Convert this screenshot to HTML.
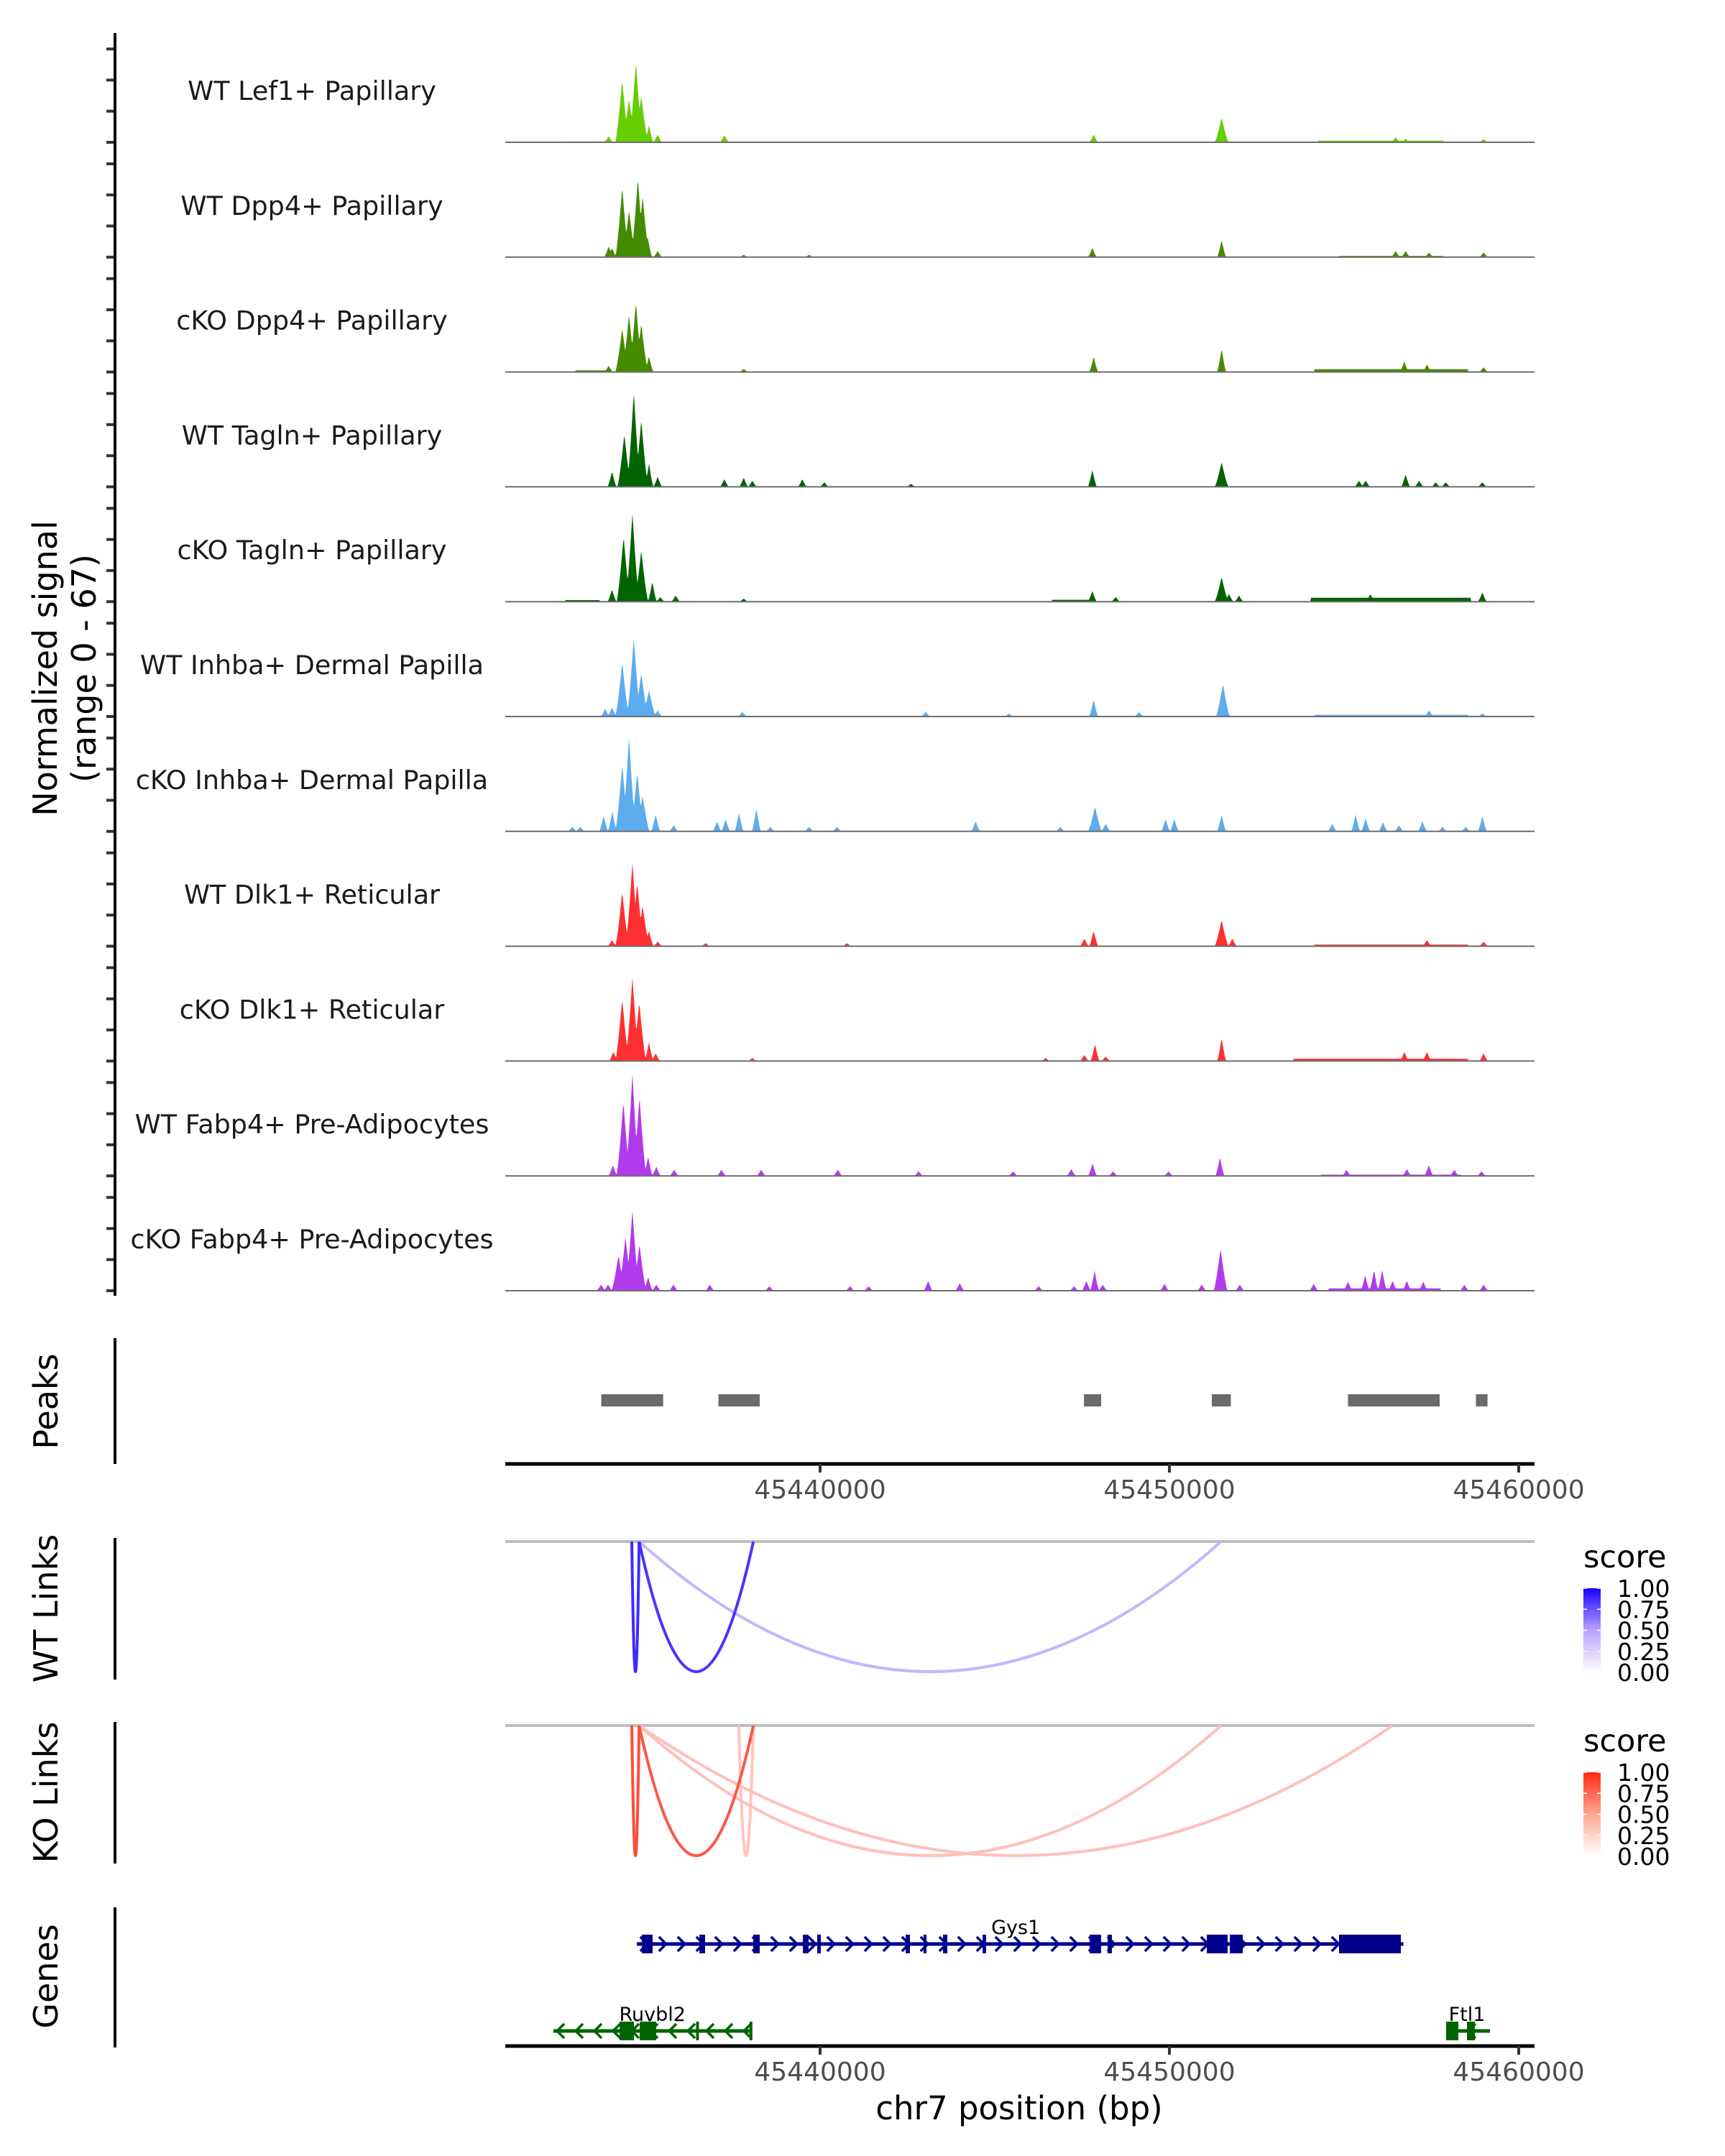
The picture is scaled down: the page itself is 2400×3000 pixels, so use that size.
<!DOCTYPE html>
<html><head><meta charset="utf-8"><style>
html,body{margin:0;padding:0;background:#fff;}
svg{display:block;font-family:"DejaVu Sans","Liberation Sans",sans-serif;}
</style></head><body>
<svg id="chart" xmlns="http://www.w3.org/2000/svg" width="2400" height="3000" viewBox="0 0 2400 3000">
<defs>
<linearGradient id="gradWT" x1="0" y1="1" x2="0" y2="0"><stop offset="0" stop-color="#ffffff"/><stop offset="0.5" stop-color="#b9a2fd"/><stop offset="1" stop-color="#1a00ff"/></linearGradient>
<linearGradient id="gradKO" x1="0" y1="1" x2="0" y2="0"><stop offset="0" stop-color="#ffffff"/><stop offset="0.5" stop-color="#fca78f"/><stop offset="1" stop-color="#ff2a14"/></linearGradient>
</defs>
<g id="tracks"></g>
<g id="peaks"></g>
<g id="links"></g>
<g id="genes"></g>
<g id="axes"></g>
</svg>
<script>
// ---------- data ----------
const xDomain = [45430.988, 45460.453];            // kb
const xTicks = [45440000, 45450000, 45460000];
const xTickLabels = ["45440000", "45450000", "45460000"];
const yMax = 67;
const yTicks = [0, 20, 40, 60];
const trackNames = ["WT Lef1+ Papillary","WT Dpp4+ Papillary","cKO Dpp4+ Papillary","WT Tagln+ Papillary","cKO Tagln+ Papillary","WT Inhba+ Dermal Papilla","cKO Inhba+ Dermal Papilla","WT Dlk1+ Reticular","cKO Dlk1+ Reticular","WT Fabp4+ Pre-Adipocytes","cKO Fabp4+ Pre-Adipocytes"];
const trackColors = ["#66CD00","#458B00","#458B00","#006400","#006400","#5CACEE","#5CACEE","#FF3030","#FF3030","#B23AEE","#B23AEE"];
// [position kb, signal, optional half-width kb (flat plateau)]
const sigWtLef1 = [[45433.947,4],[45434.336,40],[45434.531,28],[45434.727,52],[45434.881,30],[45435.102,11],[45435.351,5],[45437.259,4.6],[45447.832,5],[45451.495,16],[45456.477,3.2],[45456.763,2.4],[45458.995,2],[45456.05,1,1.8],[45433.3,0.6,0.6]];
const sigWtDpp4 = [[45433.947,7],[45434.044,6],[45434.336,45],[45434.531,30],[45434.784,51],[45434.920,39],[45435.064,13],[45435.351,4],[45447.794,6],[45451.495,11],[45456.477,4],[45456.763,4],[45457.434,3],[45458.995,3],[45437.813,1.5],[45439.684,1.5],[45456.34,0.8,1.5]];
const sigKoDpp4 = [[45433.947,4],[45434.336,28],[45434.531,37],[45434.727,45],[45434.881,31],[45435.102,10],[45447.832,10],[45451.495,15],[45456.725,7],[45457.373,5],[45458.995,3],[45456.34,1.8,2.2],[45437.813,2],[45433.5,1,0.5]];
const sigWtTagln = [[45434.044,10],[45434.396,34],[45434.667,61],[45434.881,43],[45435.102,15],[45435.351,6.5],[45437.259,5],[45437.813,6],[45438.061,4],[45439.492,5],[45440.123,3],[45442.603,2],[45447.794,11],[45451.495,16],[45455.427,4],[45455.619,4],[45456.763,8],[45457.146,4],[45457.625,3],[45457.911,3],[45458.958,3]];
const sigKoTagln = [[45434.044,8],[45434.375,42],[45434.628,57],[45434.881,33],[45435.197,13],[45435.427,3],[45435.866,4],[45447.794,7],[45448.462,3],[45451.495,16],[45451.706,5],[45451.993,4],[45455.751,5],[45458.958,6],[45456.34,2.5,2.3],[45437.813,2],[45447.232,1.2,0.6],[45433.2,1,0.5]];
const sigWtInhba = [[45433.848,5],[45434.044,6],[45434.336,35],[45434.667,51],[45434.881,28],[45435.102,17],[45435.351,4],[45437.775,3],[45443.023,3],[45445.409,2],[45447.832,11],[45449.129,3],[45451.533,21],[45457.434,4],[45458.958,2],[45456.34,1,2.2]];
const sigKoInhba = [[45432.908,3],[45433.139,3],[45433.805,10],[45434.053,13],[45434.336,43],[45434.531,61],[45434.766,38],[45434.920,23],[45435.294,11],[45435.808,4],[45437.049,6.5],[45437.297,8],[45437.679,12],[45438.176,15],[45438.577,3],[45439.684,3],[45440.484,3],[45444.454,6.5],[45446.878,3],[45447.870,16],[45448.176,5],[45449.892,8],[45450.140,8],[45451.495,11],[45454.663,5],[45455.332,11],[45455.619,8.6],[45456.116,6],[45456.573,4],[45457.244,6.5],[45457.816,3],[45458.484,3],[45458.958,10]];
const sigWtDlk1 = [[45434.044,4],[45434.336,35],[45434.628,54],[45434.766,41],[45434.920,26],[45435.102,10],[45435.351,3],[45436.725,2],[45440.770,2],[45447.565,5],[45447.832,10],[45451.495,17],[45451.801,5],[45457.373,4],[45458.995,3],[45456.34,1,2.2]];
const sigKoDlk1 = [[45434.083,6],[45434.336,40],[45434.628,54],[45434.823,38],[45435.102,12],[45435.294,5],[45438.061,2],[45446.457,2],[45447.565,4],[45447.870,11],[45448.176,3],[45451.495,15],[45456.725,6],[45457.373,6],[45458.995,5],[45456.05,1.5,2.5]];
const sigWtFabp4 = [[45434.068,7],[45434.369,48],[45434.628,66],[45434.830,51],[45435.077,12.5],[45435.312,6],[45435.822,4],[45437.175,4],[45438.312,4],[45440.508,4],[45442.821,3],[45445.526,3],[45447.192,4.5],[45447.799,8],[45448.388,3],[45449.977,3],[45451.447,12],[45455.072,4],[45456.798,4.5],[45457.426,7],[45458.155,4],[45458.935,3],[45456.34,0.8,2]];
const sigKoFabp4 = [[45433.729,4],[45433.928,4],[45434.229,23],[45434.429,35],[45434.628,52],[45434.830,30],[45435.077,9],[45435.312,4],[45435.803,4],[45436.843,4],[45438.548,3],[45440.860,3],[45441.391,3],[45443.095,6.5],[45443.998,5],[45446.258,3],[45447.272,3],[45447.624,6.5],[45447.859,13],[45448.094,4],[45449.860,4.5],[45450.925,4],[45451.466,27],[45452.014,4],[45454.132,4.5],[45455.112,6],[45455.604,10],[45455.857,13.5],[45456.093,13.5],[45456.388,6.5],[45456.798,6.5],[45457.268,6],[45458.444,4],[45458.995,4],[45456.16,1.5,1.6]];
const trackSignals = [sigWtLef1,sigWtDpp4,sigKoDpp4,sigWtTagln,sigKoTagln,sigWtInhba,sigKoInhba,sigWtDlk1,sigKoDlk1,sigWtFabp4,sigKoFabp4];
const peakStarts = [45433.735,45437.089,45447.553,45451.215,45455.113,45458.776];
const peakEnds   = [45435.507,45438.272,45448.047,45451.760,45457.737,45459.107];
const wtLinkStarts = [45434.61,45434.82,45434.82];
const wtLinkEnds   = [45434.82,45438.09,45451.48];
const wtLinkScores = [0.8,0.75,0.2];
const koLinkStarts = [45434.61,45434.82,45434.82,45434.82,45437.67];
const koLinkEnds   = [45434.82,45438.09,45451.48,45456.39,45438.09];
const koLinkScores = [0.8,0.75,0.22,0.22,0.2];
const legendTicks = [1.00,0.75,0.50,0.25,0.00];
const geneNames = ["Gys1","Ruvbl2","Ftl1"];
const geneStrands = ["+","-","-"];
const geneStarts = [45434.75,45432.367,45457.922];
const geneEnds = [45456.70,45438.025,45459.177];
const gys1Exons = [[45434.898,45435.206],[45436.544,45436.708],[45438.087,45438.272],[45439.507,45439.671],[45439.918,45440.021],[45442.449,45442.572],[45442.963,45443.046],[45443.519,45443.642],[45444.651,45444.753],[45447.717,45448.046],[45448.231,45448.354],[45451.071,45451.667],[45451.729,45452.100],[45454.856,45456.626]];
const ruvbl2Exons = [[45434.260,45434.671],[45434.836,45435.309],[45436.45,45436.51],[45437.98,45438.025]];
const ftl1Exons = [[45457.922,45458.272],[45458.519,45458.745]];
const geneExons = [gys1Exons, ruvbl2Exons, ftl1Exons];

// ---------- layout ----------
const NS = "http://www.w3.org/2000/svg";
const X0 = 703, X1 = 2135;
const AX = 160;
const trackH = 145, track0Base = 198, trackStep = 159.8;
function xs(kb){ return X0 + (kb - xDomain[0]) / (xDomain[1] - xDomain[0]) * (X1 - X0); }
function xinv(px){ return xDomain[0] + (px - X0) / (X1 - X0) * (xDomain[1] - xDomain[0]); }
function ys(v, base){ return base - Math.min(v, yMax) / yMax * trackH; }
function mk(tag, attrs, parent){ const e = document.createElementNS(NS, tag); for (const k in attrs) e.setAttribute(k, attrs[k]); parent.appendChild(e); return e; }
function lerpColor(c, s){ s = Math.pow(s, 0.8); const r=parseInt(c.slice(1,3),16), g=parseInt(c.slice(3,5),16), b=parseInt(c.slice(5,7),16);
  return "rgb(" + Math.round(255+(r-255)*s) + "," + Math.round(255+(g-255)*s) + "," + Math.round(255+(b-255)*s) + ")"; }
function leftAxis(y1, y2){
  const l = mk("line", {x1:AX, x2:AX, y1:y1, y2:y2, stroke:"#000", "stroke-width":4}, document.getElementById("axes"));
  
  
}
function yTitle(lines, cx, cy, name){
  const t = mk("text", {transform:"translate("+cx+","+cy+") rotate(-90)", "text-anchor":"middle", "font-size":46, fill:"#000"}, document.getElementById("axes"));
  
  
  lines.forEach((s, i) => { const ts = mk("tspan", {x:0, dy: i===0 ? (-(lines.length-1)*27 + 16) : 54}, t); ts.textContent = s; });
}

// ---------- signal tracks ----------
const tg = document.getElementById("tracks");
trackSignals.forEach((sig, i) => {
  const base = track0Base + trackStep * i;
  const g = mk("g", {}, tg);
  
  
  let d = "M" + X0 + "," + base;
  const xEnd = xs(45459.1);
  for (let px = X0; px <= X1; px += 1) {
    const kb = xinv(px);
    let v = 0;
    if (px <= xEnd) {
      for (const p of sig) {
        const hw = p[2] !== undefined ? p[2] : (p[1] > 15 ? 0.2 : 0.13);
        const f = 1 - Math.abs(kb - p[0]) / hw;
        if (f > 0) { const val = p[2] !== undefined ? p[1] : p[1] * Math.pow(f, 1.3); if (val > v) v = val; }
      }
    }
    d += "L" + px + "," + ys(v, base).toFixed(1);
  }
  d += "L" + X1 + "," + base + "Z";
  const area = mk("path", {d:d, fill:trackColors[i], stroke:"none"}, g);
  
  
  const bl = mk("line", {x1:X0, x2:X1, y1:base, y2:base, stroke:"#6e6e6e", "stroke-width":2}, g);
  
  
  const lab = mk("text", {x:434, y:base - 72 + 13, "text-anchor":"middle", "font-size":36.5, fill:"#1a1a1a"}, g);
  
  
  lab.textContent = trackNames[i];
  yTicks.forEach(t => {
    const yy = ys(t, base);
    const tk = mk("line", {x1:AX - 12, x2:AX, y1:yy, y2:yy, stroke:"#333", "stroke-width":4}, g);
    
    
  });
});
leftAxis(46, 1803);
yTitle(["Normalized signal", "(range 0 - 67)"], 90, 930, "y-axis-title");

// ---------- peaks ----------
const pg = document.getElementById("peaks");
peakStarts.forEach((s, i) => {
  const r = mk("rect", {x:xs(s), y:1940, width:xs(peakEnds[i]) - xs(s), height:17, fill:"#6b6b6b"}, pg);
  
  
});
leftAxis(1862, 2037);
yTitle(["Peaks"], 64, 1950, "peaks-axis-title");

// ---------- bottom x axes ----------
function xAxis(y, name){
  const ax = document.getElementById("axes");
  const l = mk("line", {x1:X0, x2:X1, y1:y, y2:y, stroke:"#000", "stroke-width":5}, ax);
  
  
  xTicks.forEach((t, i) => {
    const xx = xs(t / 1000);
    const tk = mk("line", {x1:xx, x2:xx, y1:y, y2:y + 12, stroke:"#333", "stroke-width":4}, ax);
    
    
    const tl = mk("text", {x:xx, y:y + 48, "text-anchor":"middle", "font-size":36, fill:"#4d4d4d"}, ax);
    
    
    tl.textContent = xTickLabels[i];
  });
}
xAxis(2037, 'peaks-x-axis');

// ---------- links ----------
const lg = document.getElementById("links");
function linkPanel(top, starts, ends, scores, color, grad, title, tname){
  const depth = 181;
  const gl = mk("line", {x1:X0, x2:X1, y1:top, y2:top, stroke:"#bebebe", "stroke-width":4}, lg);
  
  
  const order = scores.map((s, i) => i).sort((a, b) => scores[a] - scores[b]);
  order.forEach(i => {
    const a = xs(starts[i]), b = xs(ends[i]);
    const p = mk("path", {d:"M"+a+","+top+" Q"+((a+b)/2)+","+(top + 2*depth)+" "+b+","+top, fill:"none", stroke:lerpColor(color, scores[i]), "stroke-width":4}, lg);
    
    
  });
  const leg = mk("g", {}, lg);
  
  
  const lt = mk("text", {x:2203, y:top + 36, "font-size":43, fill:"#000"}, leg);
  
  
  lt.textContent = "score";
  const barTop = top + 65, barH = 117;
  const cb = mk("rect", {x:2203, y:barTop, width:24, height:barH, fill:"url(#" + grad + ")"}, leg);
  
  
  legendTicks.forEach(v => {
    const yy = barTop + (1 - v) * barH;
    mk("line", {x1:2203, x2:2208, y1:yy, y2:yy, stroke:"#fff", "stroke-width":1.5}, leg);
    mk("line", {x1:2222, x2:2227, y1:yy, y2:yy, stroke:"#fff", "stroke-width":1.5}, leg);
    const tl = mk("text", {x:2250, y:yy + 12, "font-size":33, fill:"#000"}, leg);
    
    
    tl.textContent = v.toFixed(2);
  });
  leftAxis(top - 5, top + 192);
  yTitle([title], 64, top + 93, tname);
}
linkPanel(2145, wtLinkStarts, wtLinkEnds, wtLinkScores, "#1a00ff", "gradWT", "WT Links", "wt-links-title");
linkPanel(2401, koLinkStarts, koLinkEnds, koLinkScores, "#ff2a14", "gradKO", "KO Links", "ko-links-title");

// ---------- genes ----------
const gg = document.getElementById("genes");
const geneY = [2705, 2826, 2826];
const geneColor = ["#00008B", "#006400", "#006400"];
const labelX = [xs(45445.6), xs(45435.2), xs(45458.52)];
geneNames.forEach((nm, i) => {
  const g = mk("g", {}, gg);
  
  
  const y = geneY[i], c = geneColor[i];
  const a = xs(geneStarts[i]), b = xs(geneEnds[i]);
  mk("line", {x1:a, x2:b, y1:y, y2:y, stroke:c, "stroke-width":5}, g);
  const dir = geneStrands[i] === "+" ? 1 : -1;
  for (let x = a + 10; x <= b - 2; x += 26) {
    mk("polyline", {points:(x - 5*dir)+","+(y-10)+" "+(x + 5*dir)+","+y+" "+(x - 5*dir)+","+(y+10), fill:"none", stroke:c, "stroke-width":3.5}, g);
  }
  geneExons[i].forEach(e => {
    const r = mk("rect", {x:xs(e[0]), y:y - 13, width:Math.max(4, xs(e[1]) - xs(e[0])), height:26, fill:c}, g);
    
    
  });
  const t = mk("text", {x:labelX[i], y:y - 14, "text-anchor":"middle", "font-size":27, fill:"#000"}, g);
  
  
  t.textContent = nm;
});
leftAxis(2654, 2849);
yTitle(["Genes"], 64, 2750, "genes-axis-title");
xAxis(2847, 'genes-x-axis');
const xt = mk("text", {x:1418, y:2949, "text-anchor":"middle", "font-size":45, fill:"#000"}, document.getElementById("axes"));


xt.textContent = "chr7 position (bp)";
</script>
</body></html>
